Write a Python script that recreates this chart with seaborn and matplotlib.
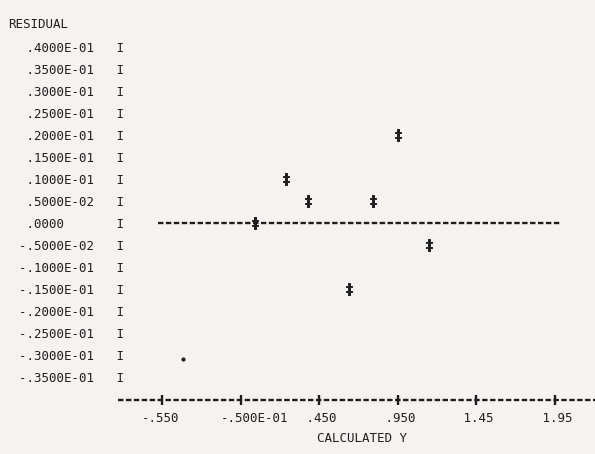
import matplotlib
matplotlib.use("Agg")
import matplotlib.pyplot as plt
import matplotlib.transforms as mtransforms
import pandas as pd
import seaborn as sns

# valors llegits de la impressió (residus contra Y calculada)
calc_y = [0.04, 0.24, 0.38, 0.64, 0.79, 0.95, 1.15]
residual = [0.0, 0.01, 0.005, -0.015, 0.005, 0.02, -0.005]

# taca de la impressió
speck_x = [-0.416]
speck_y = [-0.0309]

# eix y
y_ticks = [0.04, 0.035, 0.03, 0.025, 0.02, 0.015, 0.01, 0.005, 0.0,
           -0.005, -0.01, -0.015, -0.02, -0.025, -0.03, -0.035]
y_labels = [" .4000E-01", " .3500E-01", " .3000E-01", " .2500E-01",
            " .2000E-01", " .1500E-01", " .1000E-01", " .5000E-02",
            " .0000", "-.5000E-02", "-.1000E-01", "-.1500E-01",
            "-.2000E-01", "-.2500E-01", "-.3000E-01", "-.3500E-01"]

# eix x
x_ticks = [-0.55, -0.05, 0.45, 0.95, 1.45, 1.95]
x_labels = ["-.550", "-.500E-01", " .450", " .950", " 1.45", " 1.95"]

ink = "#1e1e1e"
paper = "#f4f3f0"

sns.set_theme(style="white")
plt.rcParams["font.family"] = ["DejaVu Sans Mono"]
plt.rcParams["lines.scale_dashes"] = False

fig = plt.figure(figsize=(5.95, 4.54), dpi=100, facecolor=paper)
ax = fig.add_axes([118 / 595, 54 / 454, 477 / 595, 400 / 454])
ax.set_facecolor(paper)

df = pd.DataFrame({"calc": calc_y, "res": residual})
sns.scatterplot(data=df, x="calc", y="res", marker="$\u2021$", s=85,
                color=ink, edgecolor=ink, linewidth=0.7, ax=ax, zorder=3)
ax.scatter(speck_x, speck_y, s=9, color=ink, linewidths=0)

# línia del zero, feta de guions com a la impressora
dash = (0, (3.9, 1.8))
ax.axhline(0, xmin=40 / 477, xmax=442 / 477, color=ink, lw=1.7,
           linestyle=dash, dash_capstyle="butt", zorder=2)

ax.set_xlim(-0.830, 2.204)
ax.set_ylim(-0.0402, 0.0507)

for s in ["top", "right", "left"]:
    ax.spines[s].set_visible(False)
ax.spines["bottom"].set_color(ink)
ax.spines["bottom"].set_linewidth(1.7)
ax.spines["bottom"].set_linestyle(dash)
ax.spines["bottom"].set_capstyle("butt")

ax.set_xticks(x_ticks)
ax.set_xticklabels(x_labels, fontsize=9, color=ink, ha="left")
ax.tick_params(axis="x", direction="inout", length=7.5, width=1.7,
               color=ink, pad=5, bottom=True)
# les etiquetes comencen una mica abans de la creu
offset = mtransforms.ScaledTranslation(-0.2, 0, fig.dpi_scale_trans)
for lab in ax.get_xticklabels():
    lab.set_transform(lab.get_transform() + offset)

ax.set_yticks(y_ticks)
ax.set_yticklabels([f"{t:<13}I" for t in y_labels], fontsize=9, color=ink)
ax.tick_params(axis="y", length=0, pad=-4.5)

ax.set_xlabel("CALCULATED Y", fontsize=9, color=ink)
ax.xaxis.set_label_coords(244 / 477, -38 / 400)
ax.xaxis.label.set_va("center")
ax.set_ylabel("RESIDUAL", fontsize=9, color=ink, rotation=0,
              ha="left", va="center")
ax.yaxis.set_label_coords(-110 / 477, 376 / 400)

fig.savefig("out.png", dpi=100, facecolor=paper)
